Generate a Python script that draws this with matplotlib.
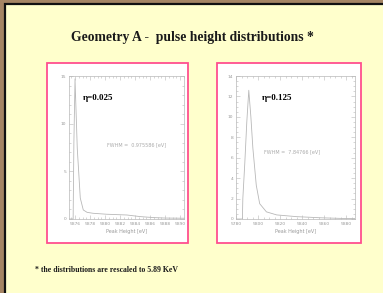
import matplotlib
matplotlib.use("Agg")
import matplotlib.pyplot as plt
from matplotlib.patches import Rectangle
from matplotlib.ticker import MultipleLocator

W, H = 383, 293

# --- data ---
# eta = 0.025
x_a = [5875.2, 5875.75, 5875.85, 5876.0, 5876.3, 5876.7, 5877.1, 5877.6, 5878.4,
       5880.2, 5882.9, 5884.7, 5886.4, 5888.0, 5890.5]
y_a = [0.0, 0.0, 8.0, 14.7, 7.4, 2.2, 0.95, 0.7, 0.6, 0.5, 0.42, 0.25, 0.15, 0.1, 0.08]
# eta = 0.125
x_b = [5780, 5785.8, 5786.2, 5788.0, 5789.8, 5791.6, 5793.5, 5795.3, 5798.4,
       5801.5, 5807.6, 5816.9, 5835.0, 5856.8, 5878.0, 5888.0]
y_b = [0.0, 0.0, 2.0, 5.5, 9.5, 12.6, 10.0, 6.95, 3.3, 1.5, 0.7, 0.4, 0.23, 0.12, 0.05, 0.04]

panels = [
    dict(x=x_a, y=y_a, xlim=(5875.2, 5890.5), ylim=(0, 15), xmaj=2, xmin=0.5, ymaj=5, ymin=1,
         eta="η=0.025", fwhm="FWHM =  0.975586 [eV]",
         box=(46.5, 63, 188, 243), ax=(69, 76, 184, 219), eta_xy=(83, 98), fwhm_xy=(107, 145)),
    dict(x=x_b, y=y_b, xlim=(5780, 5888), ylim=(0, 14), xmaj=20, xmin=5, ymaj=2, ymin=0.5,
         eta="η=0.125", fwhm="FWHM =  7.84766 [eV]",
         box=(216.5, 63, 361, 243), ax=(236, 76, 355, 219), eta_xy=(262, 98), fwhm_xy=(264, 152)),
]

gray = "#b8b8b8"
fig = plt.figure(figsize=(W / 100, H / 100), dpi=100)
fig.patch.set_facecolor("#a58564")


def px(x0, y0, x1, y1):
    return [x0 / W, 1 - y1 / H, (x1 - x0) / W, (y1 - y0) / H]


# slide background with black frame
fig.add_artist(Rectangle((4.5 / W, -0.05), 1, 1.05 - 4.5 / H, transform=fig.transFigure,
                         facecolor="#ffffcc", edgecolor="#111111", linewidth=1.6, zorder=-3))

fig.text(192.5 / W, 1 - 37 / H, "Geometry A -  pulse height distributions *",
         family="Liberation Serif", weight="bold", fontsize=9.8, color="#1a1a1a",
         ha="center", va="center")
fig.text(35 / W, 1 - 270 / H, "* the distributions are rescaled to 5.89 KeV",
         family="Liberation Serif", weight="bold", fontsize=5.6, color="#1a1a1a",
         ha="left", va="center")

for p in panels:
    bx0, by0, bx1, by1 = p["box"]
    fig.add_artist(Rectangle((bx0 / W, 1 - by1 / H), (bx1 - bx0) / W, (by1 - by0) / H,
                             transform=fig.transFigure, facecolor="white",
                             edgecolor="#ff4f8f", linewidth=1.3, zorder=-2))
    ax = fig.add_axes(px(*p["ax"]))
    ax.plot(p["x"], p["y"], color=gray, linewidth=0.6)
    ax.set_xlim(*p["xlim"])
    ax.set_ylim(*p["ylim"])
    ax.xaxis.set_major_locator(MultipleLocator(p["xmaj"]))
    ax.xaxis.set_minor_locator(MultipleLocator(p["xmin"]))
    ax.yaxis.set_major_locator(MultipleLocator(p["ymaj"]))
    ax.yaxis.set_minor_locator(MultipleLocator(p["ymin"]))
    ax.tick_params(which="both", direction="in", top=True, right=True, color=gray,
                   labelsize=3.2, labelcolor="#999999", width=0.4, pad=2)
    ax.tick_params(which="major", length=3)
    ax.tick_params(which="minor", length=1.5)
    for s in ax.spines.values():
        s.set_color(gray)
        s.set_linewidth(0.5)
    ax.set_xlabel("Peak Height [eV]", fontsize=3.5, color="#999999", labelpad=2)
    ax.set_facecolor("white")

    ex, ey = p["eta_xy"]
    fig.text(ex / W, 1 - ey / H, p["eta"], family="Liberation Serif", weight="bold",
             fontsize=6.5, color="black", ha="left", va="center")
    fx, fy = p["fwhm_xy"]
    fig.text(fx / W, 1 - fy / H, p["fwhm"], fontsize=3.5, color="#aaaaaa",
             ha="left", va="center")

fig.savefig("out.png", dpi=100, facecolor=fig.get_facecolor())
